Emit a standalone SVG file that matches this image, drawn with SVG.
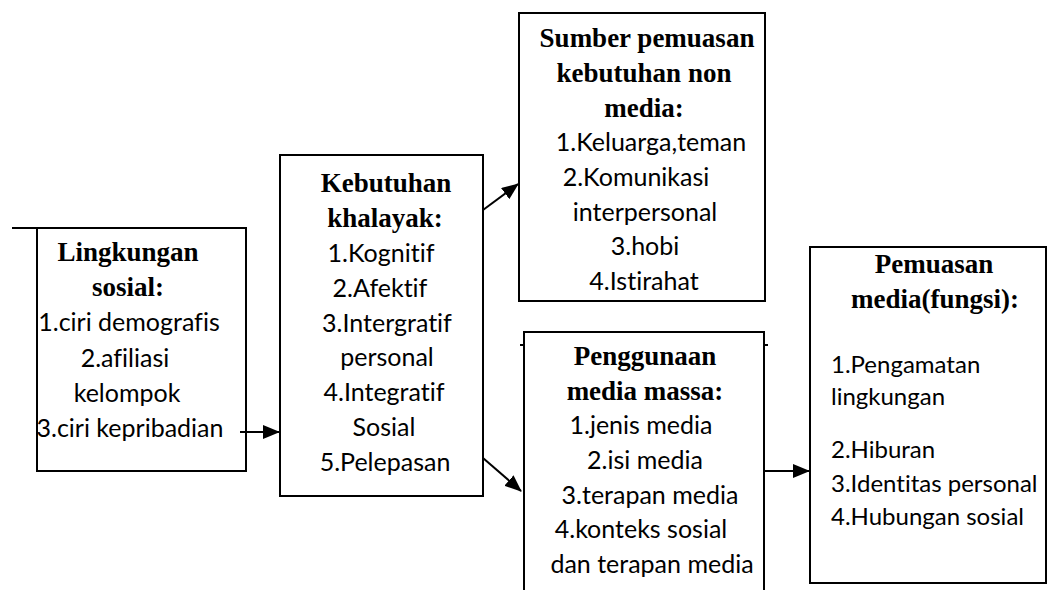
<svg xmlns="http://www.w3.org/2000/svg" width="1055" height="590" viewBox="0 0 1055 590">
<defs>
<marker id="ah" markerWidth="17" markerHeight="14" refX="16" refY="7" orient="auto" markerUnits="userSpaceOnUse">
<path d="M0,0 L17,7 L0,14 Z" fill="#000"/>
</marker>
</defs>
<style>
.box{fill:#fff;stroke:#000;stroke-width:2}
.ln{stroke:#000;stroke-width:2;fill:none}
.t{font-family:"Liberation Serif","Times New Roman",serif;font-weight:bold;font-size:27px;fill:#000;text-anchor:middle}
.b{font-family:Lato,"Liberation Sans",sans-serif;font-size:25px;fill:#000;text-anchor:middle;font-variant-ligatures:none}
.bl{font-family:Lato,"Liberation Sans",sans-serif;font-size:24px;fill:#000;font-variant-ligatures:none}
.c{stroke:#000;stroke-width:2;fill:none;marker-end:url(#ah)}
</style>
<rect width="1055" height="590" fill="#fff"/>
<g id="lingkungan">
<rect class="box" x="37" y="228" width="209" height="243"/>
<line class="ln" x1="12" y1="228" x2="37" y2="228"/>
<text class="t" x="128" y="261">Lingkungan</text>
<text class="t" x="128" y="296">sosial:</text>
<text class="b" x="129" y="331">1.ciri demografis</text>
<text class="b" x="125" y="367">2.afiliasi</text>
<text class="b" x="127" y="402">kelompok</text>
<text class="b" x="130" y="437">3.ciri kepribadian</text>
</g>
<g id="kebutuhan">
<rect class="box" x="280" y="155" width="203" height="341"/>
<text class="t" x="386" y="192">Kebutuhan</text>
<text class="t" x="385" y="227">khalayak:</text>
<text class="b" x="381" y="262">1.Kognitif</text>
<text class="b" x="380" y="297">2.Afektif</text>
<text class="b" x="387" y="332">3.Intergratif</text>
<text class="b" x="387" y="366">personal</text>
<text class="b" x="384" y="401">4.Integratif</text>
<text class="b" x="384" y="436">Sosial</text>
<text class="b" x="385" y="471">5.Pelepasan</text>
</g>
<g id="sumber">
<rect class="box" x="519" y="13" width="246" height="288"/>
<text class="t" x="647" y="47">Sumber pemuasan</text>
<text class="t" x="644" y="82">kebutuhan non</text>
<text class="t" x="644" y="117">media:</text>
<text class="b" x="651" y="151">1.Keluarga,teman</text>
<text class="b" x="636" y="186">2.Komunikasi</text>
<text class="b" x="645" y="221">interpersonal</text>
<text class="b" x="645" y="255">3.hobi</text>
<text class="b" x="644" y="290">4.Istirahat</text>
</g>
<g id="penggunaan">
<rect class="box" x="524" y="332" width="240" height="270"/>
<line class="ln" x1="520" y1="345" x2="524" y2="345"/>
<line class="ln" x1="764" y1="345" x2="768" y2="345"/>
<text class="t" x="645" y="365">Penggunaan</text>
<text class="t" x="645" y="400">media massa:</text>
<text class="b" x="641" y="434">1.jenis media</text>
<text class="b" x="645" y="469">2.isi media</text>
<text class="b" x="650" y="504">3.terapan media</text>
<text class="b" x="641" y="538">4.konteks sosial</text>
<text class="b" x="652" y="573">dan terapan media</text>
</g>
<g id="pemuasan">
<rect class="box" x="810" y="247" width="236" height="336"/>
<text class="t" x="934" y="273">Pemuasan</text>
<text class="t" x="935" y="308">media(fungsi):</text>
<text class="bl" x="831" y="373">1.Pengamatan</text>
<text class="bl" x="831" y="405">lingkungan</text>
<text class="bl" x="831" y="458">2.Hiburan</text>
<text class="bl" x="831" y="492">3.Identitas personal</text>
<text class="bl" x="831" y="525">4.Hubungan sosial</text>
</g>
<g id="connectors">
<line class="c" x1="240" y1="432" x2="279" y2="432"/>
<line class="c" x1="483" y1="210" x2="518" y2="184"/>
<line class="c" x1="483" y1="458" x2="521" y2="491"/>
<line class="c" x1="765" y1="471" x2="809" y2="471"/>
</g>
</svg>
